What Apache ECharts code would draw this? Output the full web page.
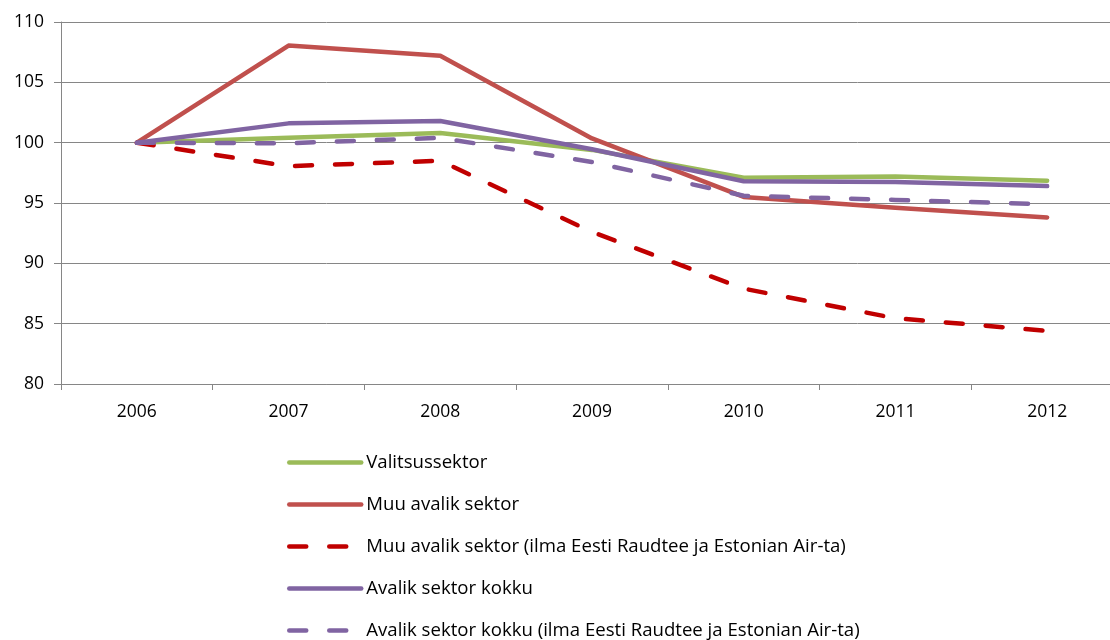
<!DOCTYPE html>
<html>
<head>
<meta charset="utf-8">
<script src="https://cdn.jsdelivr.net/npm/echarts@6/dist/echarts.min.js"></script>
<style>
html,body{margin:0;padding:0;background:#fff;overflow:hidden;}
#chart{width:1130px;height:700px;}
</style>
</head>
<body>
<div id="chart"></div>
<script>
const years = ['2006','2007','2008','2009','2010','2011','2012'];
const valitsussektor = [100, 100.4, 100.8, 99.4, 97.1, 97.2, 96.85];
const muuAvalik = [100, 108.05, 107.2, 100.35, 95.5, 94.6, 93.8];
const muuAvalikIlma = [100, 98.05, 98.5, 92.6, 87.9, 85.45, 84.4];
const avalikKokku = [100, 101.6, 101.8, 99.45, 96.8, 96.75, 96.4];
const avalikKokkuIlma = [100, 99.95, 100.4, 98.4, 95.6, 95.25, 94.9];
const seriesNames = [
  'Valitsussektor',
  'Muu avalik sektor',
  'Muu avalik sektor (ilma Eesti Raudtee ja Estonian Air-ta)',
  'Avalik sektor kokku',
  'Avalik sektor kokku (ilma Eesti Raudtee ja Estonian Air-ta)'
];
const yTicks = {min: 80, max: 110, interval: 5};

const FONT = 'Open Sans';
const chart = echarts.init(document.getElementById('chart'), null, {renderer: 'canvas'});

function mk(name, data, color, dashed) {
  return {
    name: name,
    type: 'line',
    data: data,
    symbol: 'none',
    showSymbol: false,
    smooth: false,
    lineStyle: {
      color: color,
      width: 4.5,
      type: dashed ? [17, 23] : 'solid',
      cap: 'round',
      join: 'round'
    },
    itemStyle: {color: color},
    emphasis: {disabled: true},
    animation: false
  };
}

chart.setOption({
  animation: false,
  textStyle: {fontFamily: FONT},
  grid: {left: 61, top: 22, width: 1062, height: 362, containLabel: false},
  xAxis: {
    type: 'category',
    data: years,
    boundaryGap: true,
    axisLine: {show: true, lineStyle: {color: '#868686', width: 1}},
    axisTick: {show: true, length: 6, alignWithLabel: false, lineStyle: {color: '#868686'}},
    axisLabel: {color: '#000', fontSize: 17.5, margin: 19, fontFamily: FONT},
    splitLine: {show: false}
  },
  yAxis: {
    type: 'value',
    min: yTicks.min,
    max: yTicks.max,
    interval: yTicks.interval,
    axisLine: {show: true, lineStyle: {color: '#868686', width: 1}},
    axisTick: {show: true, length: 7, lineStyle: {color: '#868686'}},
    axisLabel: {color: '#000', fontSize: 17.5, margin: 17, fontFamily: FONT},
    splitLine: {show: true, lineStyle: {color: '#868686', width: 1}}
  },
  legend: {
    orient: 'vertical',
    left: 282,
    top: 448,
    itemWidth: 72,
    itemHeight: 18,
    itemGap: 23,
    selectedMode: false,
    itemStyle: {opacity: 0},
    lineStyle: {width: 4.5, cap: 'round'},
    textStyle: {color: '#000', fontSize: 18.6, fontFamily: FONT, padding: [0,0,0,0]},
    data: seriesNames
  },
  series: [
    mk(seriesNames[0], valitsussektor, '#9BBB59', false),
    mk(seriesNames[1], muuAvalik, '#C0504D', false),
    mk(seriesNames[2], muuAvalikIlma, '#C00000', true),
    mk(seriesNames[3], avalikKokku, '#8064A2', false),
    mk(seriesNames[4], avalikKokkuIlma, '#8064A2', true)
  ]
});
</script>
</body>
</html>
